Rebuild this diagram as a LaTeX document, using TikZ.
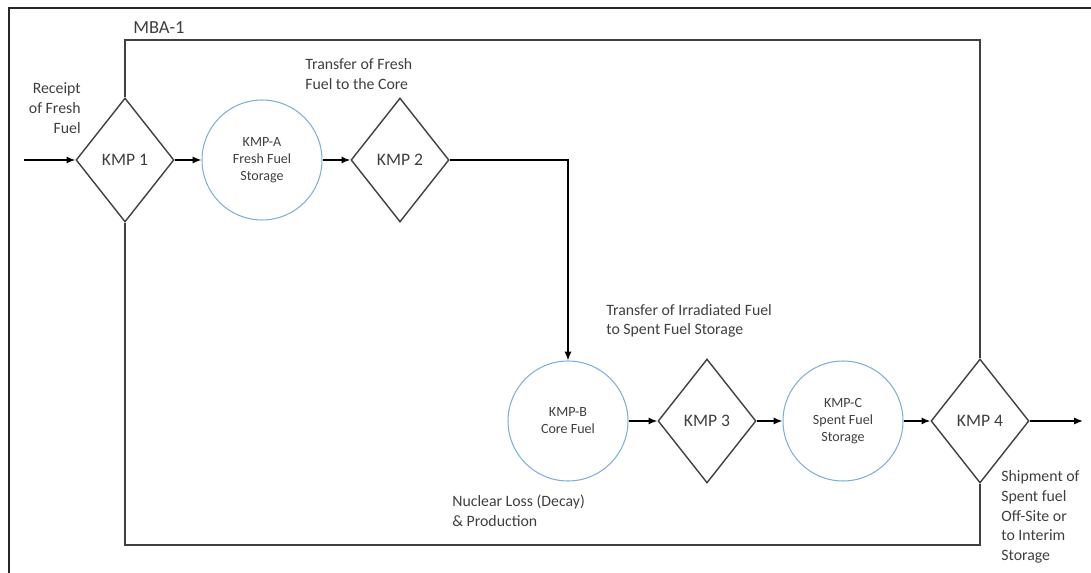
\documentclass[tikz,border=0pt]{standalone}
\usepackage{fontspec}
\setmainfont{Carlito}
\usetikzlibrary{shapes.geometric,arrows.meta}

\definecolor{txtgray}{HTML}{3F3F3F}
\definecolor{linegray}{HTML}{404040}
\definecolor{storeblue}{HTML}{7FAEDC}

\tikzset{
    kmp/.style={diamond, draw=linegray, line width=0.8pt, inner sep=0pt,
        minimum width=1.96cm, minimum height=2.48cm, text=txtgray,
        font=\fontsize{10}{12}\selectfont},
    store/.style={circle, draw=storeblue, line width=0.6pt, inner sep=0pt,
        minimum size=2.4cm, align=center, text=txtgray,
        font=\fontsize{8}{9.7}\selectfont},
    lbl/.style={inner sep=0pt, text=txtgray, font=\fontsize{9}{11.2}\selectfont},
    arr/.style={-{Latex[length=5pt,width=4pt]}, line width=0.8pt, black},
    mba/.style={line width=0.9pt, linegray}
}

\begin{document}
\begin{tikzpicture}[x=0.02cm, y=-0.02cm]
    \useasboundingbox (0,0) rectangle (1091,573);

    % Rahmen
    \draw[line width=1.6pt, black!85] (9,573) -- (9,8) -- (1091,8);

    % Messpunkte und Lager
    \node[kmp] (k1) at (125,160) {KMP 1};
    \node[store] (ca) at (262,160) {KMP-A\\Fresh Fuel\\Storage};
    \node[kmp] (k2) at (400,160) {KMP 2};
    \node[store] (cb) at (568,421) {KMP-B\\Core Fuel};
    \node[kmp] (k3) at (707,421) {KMP 3};
    \node[store] (cc) at (843,421) {KMP-C\\Spent Fuel\\Storage};
    \node[kmp] (k4) at (980,421) {KMP 4};

    % Ein- und Ausgang
    \coordinate (in) at (24,160);
    \coordinate (out) at (1083,421);
    \draw[arr] (in) -- (k1.west);
    \draw[arr] (k4.east) -- (out);

    % Materialfluss
    \draw[arr] (k1.east) -- (ca.west);
    \draw[arr] (ca.east) -- (k2.west);
    \draw[arr] (k2.east) -| (cb.north);
    \draw[arr] (cb.east) -- (k3.west);
    \draw[arr] (k3.east) -- (cc.west);
    \draw[arr] (cc.east) -- (k4.west);

    % Bilanzzone MBA-1
    \coordinate (mbatop) at (0,40);
    \coordinate (mbabot) at (0,545);
    \draw[mba] (k1.north) -- (k1.north |- mbatop) -| (k4.north);
    \draw[mba] (k1.south) -- (k1.south |- mbabot) -| (k4.south);
    \node[lbl, anchor=west, font=\fontsize{10.5}{12}\selectfont] (mbalbl) at (133,28) {MBA-1};

    % Beschriftungen
    \node[lbl, anchor=east, align=right] (receipt) at (81,108) {Receipt\\of Fresh\\Fuel};
    \node[lbl, anchor=west, align=left] (tcore) at (305,74) {Transfer of Fresh\\Fuel to the Core};
    \node[lbl, anchor=west, align=left] (tspent) at (606,321) {Transfer of Irradiated Fuel\\to Spent Fuel Storage};
    \node[lbl, anchor=west, align=left] (loss) at (452,511) {Nuclear Loss (Decay)\\\& Production};
    \node[lbl, anchor=west, align=left] (ship) at (1001,517) {Shipment of\\Spent fuel\\Off-Site or\\to Interim\\Storage};
\end{tikzpicture}
\end{document}
